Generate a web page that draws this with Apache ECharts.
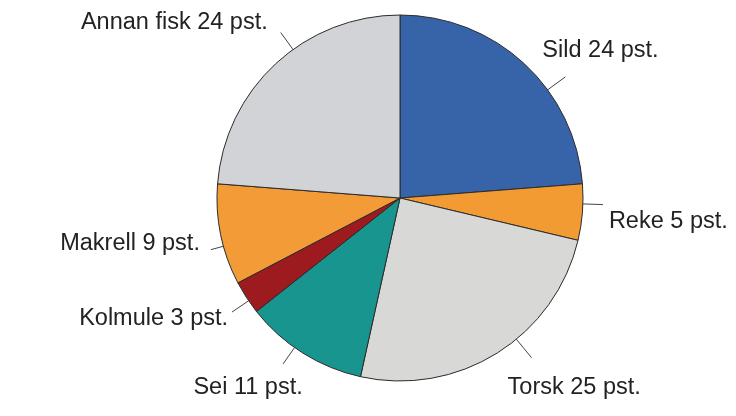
<!DOCTYPE html>
<html>
<head>
<meta charset="utf-8">
<script src="https://cdn.jsdelivr.net/npm/echarts@6/dist/echarts.min.js"></script>
<style>
  html, body { margin: 0; padding: 0; background: #ffffff; }
  #chart { width: 736px; height: 416px; }
</style>
</head>
<body>
<div id="chart"></div>
<script>
// Fish species and their share of the catch, in percent
const species = ['Sild', 'Reke', 'Torsk', 'Sei', 'Kolmule', 'Makrell', 'Annan fisk'];
const shares = [24, 5, 25, 11, 3, 9, 24];
const sliceColors = ['#3763a8', '#f29b32', '#d8d8d6', '#18958f', '#9d1a1f', '#f29b37', '#d2d3d7'];

// Label styling: leader angle tweak (deg), leader length, text offset from leader end, alignment
const leaderShift = [11, -2.6, -7.4, 3.1, -1.2, -3.7, 7];
const leaderLen = [22, 20, 24, 20, 20, 13, 21];
const textOffset = [[-23, -26], [6, 17], [-24, 30], [-35, 24], [-4, 6], [-11, -6], [-13, -10]];
const textAlign = ['left', 'left', 'left', 'center', 'right', 'right', 'right'];

const CX = 400, CY = 198, R = 183;
const total = shares.reduce((a, b) => a + b, 0);
const midAngles = [];
let acc = 0;
shares.forEach(v => { midAngles.push((acc + v / 2) / total * 360); acc += v; });

function polar(angleDeg, r) {
  const a = angleDeg * Math.PI / 180;
  return [CX + r * Math.sin(a), CY - r * Math.cos(a)];
}

const chart = echarts.init(document.getElementById('chart'), null, { renderer: 'canvas' });
chart.setOption({
  animation: false,
  backgroundColor: '#ffffff',
  series: [{
    type: 'pie',
    center: [CX, CY],
    radius: R,
    startAngle: 90,
    clockwise: true,
    avoidLabelOverlap: false,
    data: species.map((name, i) => ({
      name: name,
      value: shares[i],
      itemStyle: { color: sliceColors[i] }
    })),
    itemStyle: { borderColor: '#2b2b2b', borderWidth: 1 },
    label: {
      show: true,
      position: 'outside',
      formatter: '{b} {c} pst.',
      fontFamily: '"Liberation Sans", Arial, sans-serif',
      fontSize: 23.5,
      color: '#222222'
    },
    labelLine: {
      show: true,
      length: 20,
      length2: 0,
      lineStyle: { color: '#444444', width: 1 }
    },
    emphasis: { disabled: true },
    labelLayout: function (params) {
      const i = params.dataIndex;
      const ang = midAngles[i] + leaderShift[i];
      const p0 = polar(ang, R);
      const p1 = polar(ang, R + leaderLen[i]);
      return {
        x: p1[0] + textOffset[i][0],
        y: p1[1] + textOffset[i][1],
        align: textAlign[i],
        verticalAlign: 'middle',
        labelLinePoints: [p0, p1, p1]
      };
    }
  }]
});
</script>
</body>
</html>
